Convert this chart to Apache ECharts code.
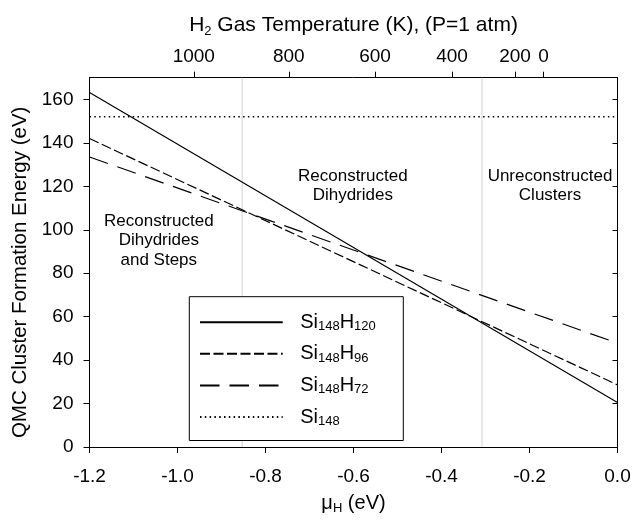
<!DOCTYPE html>
<html>
<head>
<meta charset="utf-8">
<script src="https://cdn.jsdelivr.net/npm/echarts@6/dist/echarts.min.js"></script>
<style>html,body{margin:0;padding:0;background:#fff}#c{width:644px;height:521px}</style>
</head>
<body>
<div id="c"></div>
<script>
// ---- data ----
const muValues = [-1.2, 0.0];
const si148H120 = [163.2, 20.5];
const si148H96 = [142.0, 28.6];
const si148H72 = [133.5, 47.8];
const si148 = [152.0, 152.0];
const seriesNames = ['Si148H120', 'Si148H96', 'Si148H72', 'Si148'];
const legendRich = {
  'Si148H120': '{sp|}{b|Si}{s|148}{b|H}{s|120}',
  'Si148H96': '{sp|}{b|Si}{s|148}{b|H}{s|96}',
  'Si148H72': '{sp|}{b|Si}{s|148}{b|H}{s|72}',
  'Si148': '{sp|}{b|Si}{s|148}'
};
const tempLabels = ['1000', '800', '600', '400', '200', '0'];
const tempPositions = [-0.963, -0.747, -0.551, -0.376, -0.233, -0.168];
const regionBoundaries = [-0.853, -0.308];
const regionTexts = ['Reconstructed\nDihydrides\nand Steps', 'Reconstructed\nDihydrides', 'Unreconstructed\nClusters'];

const FONT = '"Liberation Sans", Arial, sans-serif';
const pairs = arr => muValues.map((x, i) => [x, arr[i]]);

const chart = echarts.init(document.getElementById('c'), null, {renderer: 'canvas'});
const axisLineStyle = {color: '#000', width: 1};
const lbl = {color: '#000', fontFamily: FONT, fontSize: 19};
const nameRich = (size) => ({
  b: {fontFamily: FONT, fontSize: size, color: '#000', lineHeight: 24},
  s: {fontFamily: FONT, fontSize: 13, color: '#000', verticalAlign: 'bottom', lineHeight: 9}
});

const LEG = {left: 189.3, top: 296.7, width: 213.5, height: 144.3};

const option = {
  backgroundColor: '#fff',
  animation: false,
  grid: {left: 89.5, right: 26.5, top: 77.7, bottom: 74, containLabel: false},
  xAxis: [
    {
      type: 'value', position: 'bottom', min: -1.2, max: 0, interval: 0.2,
      axisLine: {show: true, onZero: false, lineStyle: axisLineStyle},
      axisTick: {show: true, inside: false, length: 6, lineStyle: axisLineStyle},
      axisLabel: Object.assign({margin: 20, formatter: v => v.toFixed(1)}, lbl),
      splitLine: {show: false},
      name: '{b|μ}{s|H}{b| (eV)}', nameLocation: 'middle', nameGap: 44,
      nameTextStyle: {color: '#000', fontFamily: FONT, fontSize: 20, rich: nameRich(20)}
    },
    {
      type: 'value', position: 'top', min: -1.2, max: 0,
      axisLine: {show: true, onZero: false, lineStyle: axisLineStyle},
      axisTick: {show: true, inside: false, length: 6, lineStyle: axisLineStyle, customValues: tempPositions},
      axisLabel: Object.assign({margin: 11, customValues: tempPositions,
        formatter: v => { const i = tempPositions.findIndex(p => Math.abs(p - v) < 1e-6); return i >= 0 ? tempLabels[i] : ''; }}, lbl),
      splitLine: {show: false},
      name: '{b|H}{s|2}{b| Gas Temperature (K), (P=1 atm)}', nameLocation: 'middle', nameGap: 40,
      nameTextStyle: {color: '#000', fontFamily: FONT, fontSize: 21, rich: nameRich(21)}
    }
  ],
  yAxis: [
    {
      type: 'value', position: 'left', min: 0, max: 170, interval: 20,
      axisLine: {show: true, onZero: false, lineStyle: axisLineStyle},
      axisTick: {show: true, inside: false, length: 6, lineStyle: axisLineStyle},
      axisLabel: Object.assign({margin: 16, showMaxLabel: false}, lbl),
      splitLine: {show: false},
      name: 'QMC Cluster Formation Energy (eV)', nameLocation: 'middle', nameGap: 48, nameRotate: 90,
      nameTextStyle: {color: '#000', fontFamily: FONT, fontSize: 20.5, padding: [0, 20, 0, 0]}
    },
    {
      type: 'value', position: 'right', min: 0, max: 170, interval: 20,
      axisLine: {show: true, onZero: false, lineStyle: axisLineStyle},
      axisTick: {show: true, inside: true, length: 5, lineStyle: axisLineStyle},
      axisLabel: {show: false},
      splitLine: {show: false}
    }
  ],
  legend: {
    orient: 'vertical', left: LEG.left, top: LEG.top, z: 10, zlevel: 1,
    data: seriesNames,
    itemWidth: 82.7, itemHeight: 14, itemGap: 10.6,
    padding: [15.5, 27.5, 12.5, 9.7],
    borderColor: '#000', borderWidth: 1, backgroundColor: '#ffffff',
    inactiveColor: '#000',
    selectedMode: false,
    itemStyle: {color: 'rgba(0,0,0,0)', borderColor: 'rgba(0,0,0,0)', borderWidth: 0},
    formatter: name => legendRich[name],
    textStyle: {
      color: '#000', fontFamily: FONT, fontSize: 20,
      rich: {
        sp: {width: 12.5, fontSize: 20, lineHeight: 22},
        b: {fontFamily: FONT, fontSize: 20, color: '#000', lineHeight: 22},
        s: {fontFamily: FONT, fontSize: 13, color: '#000', verticalAlign: 'bottom', lineHeight: 7}
      }
    }
  },
  graphic: [
    {type: 'text', x: 158.8, y: 240.8, style: {text: regionTexts[0], font: '17px ' + FONT, fill: '#000', align: 'center', verticalAlign: 'middle', lineHeight: 19.3}},
    {type: 'text', x: 352.8, y: 185.5, style: {text: regionTexts[1], font: '17px ' + FONT, fill: '#000', align: 'center', verticalAlign: 'middle', lineHeight: 19.3}},
    {type: 'text', x: 550, y: 185.5, style: {text: regionTexts[2], font: '17px ' + FONT, fill: '#000', align: 'center', verticalAlign: 'middle', lineHeight: 19.3}}
  ],
  series: [
    {
      name: seriesNames[0], type: 'line', data: pairs(si148H120), symbol: 'none',
      lineStyle: {color: '#000', width: 1.2, type: 'solid'}, itemStyle: {color: '#000'}, z: 3
    },
    {
      name: seriesNames[1], type: 'line', data: pairs(si148H96), symbol: 'none',
      lineStyle: {color: '#000', width: 1.2, type: [10, 3.5]}, itemStyle: {color: '#000'}, z: 3
    },
    {
      name: seriesNames[2], type: 'line', data: pairs(si148H72), symbol: 'none',
      lineStyle: {color: '#000', width: 1.2, type: [19.5, 10]}, itemStyle: {color: '#000'}, z: 3
    },
    {
      name: seriesNames[3], type: 'line', data: pairs(si148), symbol: 'none',
      lineStyle: {color: '#000', width: 1.6, type: [1.5, 3.3]}, itemStyle: {color: '#000'}, z: 3
    }
  ]
};
chart.setOption(option);

// region boundary lines: drawn as segments that stop at the legend box (legend is opaque in the reference)
const gridTop = chart.convertToPixel({yAxisIndex: 0}, 170);
const gridBottom = chart.convertToPixel({yAxisIndex: 0}, 0);
const segs = [];
regionBoundaries.forEach(mu => {
  const px = chart.convertToPixel({xAxisIndex: 0}, mu);
  if (px > LEG.left && px < LEG.left + LEG.width) {
    segs.push([px, gridTop, px, LEG.top]);
    segs.push([px, LEG.top + LEG.height, px, gridBottom]);
  } else {
    segs.push([px, gridTop, px, gridBottom]);
  }
});
chart.setOption({
  graphic: option.graphic.concat(segs.map(s => ({
    type: 'line', z: 1, silent: true,
    shape: {x1: s[0], y1: s[1], x2: s[2], y2: s[3]},
    style: {stroke: '#dadada', lineWidth: 1.2}
  })))
}, {replaceMerge: ['graphic']});
</script>
</body>
</html>
